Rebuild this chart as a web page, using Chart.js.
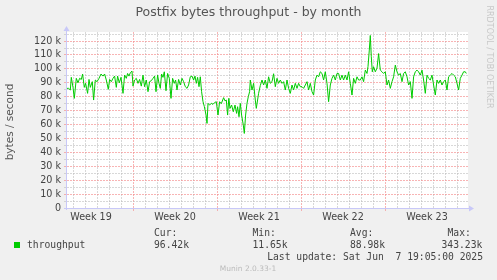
<!DOCTYPE html>
<html>
<head>
<meta charset="utf-8">
<script src="https://cdn.jsdelivr.net/npm/chart.js@4/dist/chart.umd.min.js"></script>
<style>
  html, body { margin: 0; padding: 0; background: #F0F0F0; }
  canvas { display: block; }
</style>
</head>
<body>
<canvas id="c" width="497" height="280"></canvas>
<script>
// ---- DATA ----
// time offset of each sample, in hours since the left edge of the graph
const hours = [
  0, 3.2, 6.6, 8.6, 12, 14.6, 18.6, 22, 25.2, 28.6, 31.2, 34.6, 37.2, 41.2, 44, 46.6, 50.6, 53.2, 56.6, 60,
  64, 68, 72, 75.2, 78.6, 82.6, 85.2, 88.6, 92, 95.2, 98.6, 101.2, 104.6, 108, 112, 115.2, 118.6, 121.2, 124, 126.6,
  130, 132, 135.2, 138.6, 142, 145.2, 148.6, 152, 155.2, 158.6, 162, 165.2, 168.6, 172, 175.2, 178, 181.2, 184, 186.6, 189.2,
  192, 194.6, 198, 201.2, 204.6, 208, 211.2, 214.6, 217.2, 220, 223.2, 226.6, 230, 233.2, 236.6, 240, 243.2, 246.6, 250, 253.2,
  256, 258.6, 261.2, 264, 266.6, 269.2, 272, 274.6, 278, 280, 282, 285.2, 288.6, 292, 295.2, 298.6, 302, 305.2, 308.6, 313.2,
  316, 318.6, 321.2, 323.6, 326, 329.2, 332.6, 336, 339.2, 341.2, 344, 346.6, 349.2, 352.6, 354.6, 357.2, 360, 362.6, 365.2, 366.6,
  370, 373.2, 376.6, 378.6, 383.2, 386.6, 390, 393.2, 396.6, 400, 403.2, 406.6, 410, 413.2, 416.6, 420, 423.2, 426.6, 430, 433.2,
  436.6, 440, 443.2, 446.6, 450, 453.2, 456.6, 460, 463.2, 466.6, 470, 473.2, 476.6, 480, 483.2, 486.6, 490, 493.2, 496.6, 500,
  503.2, 506.6, 510, 513.2, 516.6, 520, 523.2, 526.6, 530, 533.2, 536.6, 540, 543.2, 546.6, 550, 553.2, 556.6, 560, 563.2, 566.6,
  570, 573.2, 576.6, 580, 583.2, 586.6, 590, 593.2, 596.6, 600, 602, 604.6, 606.6, 608.6, 610.6, 613.2, 616.6, 620, 623.2, 626.6,
  630, 633.2, 636.6, 640, 643.2, 646.6, 650, 653.2, 656.6, 660, 663.2, 666.6, 670, 673.2, 676.6, 680, 683.2, 686.6, 690, 693.2,
  696.6, 700, 703.2, 706.6, 710, 713.2, 716.6, 720, 723.2, 726.6, 730, 733.2, 736.6, 740, 743.2, 746.6, 750, 753.2, 756.6, 760,
  763.2, 766.6, 770, 773.2, 776.6, 780, 783.2, 786.6, 790, 793.2, 796.6, 798.6
];
// throughput in k bytes / second
const throughput = [
  86.0, 86.0, 84.8, 93.9, 86.7, 78.8, 93.2, 90.0, 93.2, 92.4, 96.3, 86.7, 89.6, 82.4, 92.4, 86.7, 90.8, 77.6, 92.0, 90.8,
  93.2, 96.3, 94.8, 96.3, 92.0, 85.3, 92.4, 90.8, 93.2, 94.8, 86.7, 94.8, 90.0, 93.9, 82.4, 95.5, 93.2, 96.7, 94.8, 97.2,
  98.4, 87.6, 92.0, 93.2, 89.6, 92.4, 87.6, 95.5, 87.2, 92.0, 83.6, 90.8, 91.5, 93.2, 94.8, 83.6, 95.5, 89.6, 86.0, 96.3,
  93.9, 97.9, 84.3, 96.7, 93.2, 78.8, 93.2, 89.6, 92.0, 84.8, 92.4, 88.4, 93.2, 90.8, 87.2, 86.0, 88.4, 94.3, 94.8, 92.0,
  94.8, 89.6, 93.9, 87.2, 94.3, 83.6, 76.4, 73.0, 67.0, 60.8, 75.2, 74.0, 75.2, 74.5, 75.8, 76.4, 66.8, 76.4, 75.0, 79.3,
  77.0, 77.6, 66.8, 78.8, 71.6, 74.0, 69.2, 74.0, 68.0, 72.8, 65.6, 75.2, 66.8, 59.6, 53.6, 66.8, 75.2, 80.0, 83.6, 92.0,
  84.8, 89.6, 77.6, 71.6, 82.4, 88.0, 92.0, 88.4, 92.0, 86.0, 94.3, 89.6, 90.8, 96.5, 87.2, 93.2, 89.6, 92.0, 89.6, 90.8,
  84.8, 92.0, 86.0, 82.4, 88.4, 84.8, 89.6, 86.0, 89.6, 87.2, 87.2, 86.0, 88.4, 90.8, 84.8, 89.6, 83.6, 81.2, 92.0, 95.5,
  94.3, 97.9, 96.7, 92.0, 97.9, 89.6, 76.4, 88.4, 93.2, 95.5, 92.0, 96.7, 96.7, 92.0, 95.5, 92.0, 95.5, 92.0, 97.9, 89.6,
  81.2, 93.2, 89.6, 94.3, 92.0, 92.0, 94.3, 90.8, 99.1, 96.7, 101.7, 113.5, 124.0, 108.7, 97.9, 101.5, 97.9, 100.5, 111.0, 99.1,
  97.9, 96.7, 97.9, 88.4, 92.0, 86.0, 90.8, 94.3, 102.7, 97.9, 95.5, 96.7, 90.8, 96.7, 97.9, 94.3, 88.4, 90.8, 78.8, 94.3,
  97.9, 99.1, 97.9, 95.5, 99.1, 92.0, 82.4, 95.5, 93.2, 92.0, 95.5, 88.4, 81.2, 92.0, 89.6, 92.0, 88.4, 90.8, 92.0, 84.8,
  94.3, 95.5, 96.7, 95.5, 94.3, 89.6, 84.8, 93.2, 95.5, 97.9, 97.9, 96.7
];
// week labels and the hour (week centre) at which each is written
const weekLabels = ['Week 19', 'Week 20', 'Week 21', 'Week 22', 'Week 23'];
const weekCentres = [48, 216, 384, 552, 720];
const weekStarts = [132, 300, 468, 636];
const spanHours = 802;
const yMax = 126.5;
const yTickLabels = [0, 10, 20, 30, 40, 50, 60, 70, 80, 90, 100, 110, 120];

const chartTitle = 'Postfix bytes throughput - by month';
const yTitle = 'bytes / second';
const seriesName = 'throughput';
const statNames = ['Cur:', 'Min:', 'Avg:', 'Max:'];
const statValues = ['96.42k', '11.65k', '88.98k', '343.23k'];
const lastUpdate = 'Last update: Sat Jun  7 19:05:00 2025';
const watermark = 'RRDTOOL / TOBI OETIKER';
const footer = 'Munin 2.0.33-1';

// ---- STYLE ----
const GREEN = '#00CC00';
const MAJOR = 'rgba(245,140,140,0.65)';
const MINOR = 'rgba(190,190,190,0.6)';
const AXIS = '#C8C8F8';
const SANS = '"DejaVu Sans", sans-serif';
const MONO = '"DejaVu Sans Mono", monospace';

const pts = hours.map((h, i) => ({ x: h, y: throughput[i] }));

const decor = {
  id: 'decor',
  beforeDraw(chart) {
    const { ctx, chartArea: a } = chart;
    ctx.save();
    ctx.fillStyle = '#F0F0F0';
    ctx.fillRect(0, 0, chart.width, chart.height);
    ctx.fillStyle = '#FFFFFF';
    ctx.fillRect(a.left, a.top, a.right - a.left, a.bottom - a.top);
    ctx.restore();
  },
  afterDatasetsDraw(chart) {
    const { ctx, chartArea: a } = chart;
    ctx.save();
    ctx.strokeStyle = AXIS;
    ctx.fillStyle = AXIS;
    ctx.lineWidth = 1;
    ctx.beginPath();
    ctx.moveTo(a.left - 0.5, a.bottom + 2);
    ctx.lineTo(a.left - 0.5, a.top - 2);
    ctx.moveTo(a.left - 3, a.bottom + 0.5);
    ctx.lineTo(a.right + 2, a.bottom + 0.5);
    ctx.stroke();
    ctx.beginPath();
    ctx.moveTo(a.left - 3.5, a.top - 1);
    ctx.lineTo(a.left + 2.5, a.top - 1);
    ctx.lineTo(a.left - 0.5, a.top - 6);
    ctx.closePath();
    ctx.fill();
    ctx.beginPath();
    ctx.moveTo(a.right + 1, a.bottom - 2.5);
    ctx.lineTo(a.right + 1, a.bottom + 3.5);
    ctx.lineTo(a.right + 6, a.bottom + 0.5);
    ctx.closePath();
    ctx.fill();
    ctx.restore();
  },
  afterDraw(chart) {
    const { ctx, chartArea: a } = chart;
    ctx.save();
    ctx.fillStyle = '#555555';
    ctx.font = '12.5px ' + SANS;
    ctx.textAlign = 'center';
    ctx.textBaseline = 'middle';
    ctx.fillText(chartTitle, chart.width / 2, 13);
    ctx.save();
    ctx.translate(10.5, (a.top + a.bottom) / 2 + 2);
    ctx.rotate(-Math.PI / 2);
    ctx.font = '10.5px ' + SANS;
    ctx.fillStyle = '#555555';
    ctx.fillText(yTitle, 0, 0);
    ctx.restore();
    ctx.save();
    ctx.translate(chart.width - 7.5, 57);
    ctx.rotate(Math.PI / 2);
    ctx.font = '8px ' + SANS;
    ctx.fillStyle = '#C8C8C8';
    ctx.fillText(watermark, 0, 0);
    ctx.restore();
    ctx.fillStyle = GREEN;
    ctx.fillRect(14, 242, 6, 6);
    ctx.font = '9.7px ' + MONO;
    ctx.fillStyle = '#444444';
    ctx.textAlign = 'left';
    ctx.textBaseline = 'middle';
    ctx.fillText(seriesName, 27, 245.5);
    const nameX = [154, 252.5, 350, 447.5];
    const valX = [154, 252.5, 350, 441.5];
    statNames.forEach((s, i) => ctx.fillText(s, nameX[i], 233.5));
    statValues.forEach((s, i) => ctx.fillText(s, valX[i], 245.5));
    ctx.textAlign = 'right';
    ctx.fillText(lastUpdate, 483, 257.5);
    ctx.textAlign = 'center';
    ctx.font = '7.5px ' + SANS;
    ctx.fillStyle = '#BBBBBB';
    ctx.fillText(footer, 248, 269);
    ctx.restore();
  }
};

const isWeekStart = v => weekStarts.includes(v);
const isLabelTick = v => weekCentres.includes(v);

new Chart(document.getElementById('c'), {
  type: 'line',
  data: {
    datasets: [{
      label: seriesName,
      data: pts,
      borderColor: GREEN,
      borderWidth: 1,
      pointRadius: 0,
      tension: 0,
      fill: false
    }]
  },
  options: {
    responsive: false,
    animation: false,
    devicePixelRatio: 1,
    layout: { padding: { top: 32, right: 29, bottom: 52, left: 0 } },
    plugins: { legend: { display: false }, title: { display: false }, tooltip: { enabled: false } },
    scales: {
      x: {
        type: 'linear',
        min: 0,
        max: spanHours,
        afterFit(s) { s.height = 20; },
        afterBuildTicks(s) {
          const t = [];
          for (let h = 12; h < spanHours; h += 24) t.push({ value: h });
          weekCentres.forEach(v => t.push({ value: v }));
          t.sort((p, q) => p.value - q.value);
          s.ticks = t;
        },
        ticks: {
          autoSkip: false,
          maxRotation: 0,
          padding: 1,
          color: '#444444',
          font: { family: SANS, size: 9.6 },
          callback(v) {
            const i = weekCentres.indexOf(v);
            return i >= 0 ? weekLabels[i] : '';
          }
        },
        grid: {
          color: c => isLabelTick(c.tick.value) ? 'rgba(0,0,0,0)' : (isWeekStart(c.tick.value) ? MAJOR : MINOR),
          tickColor: c => isWeekStart(c.tick.value) ? MAJOR : 'rgba(0,0,0,0)',
          tickLength: 3,
          lineWidth: 1
        },
        border: { display: false, dash: [2, 1] }
      },
      y: {
        type: 'linear',
        min: 0,
        max: yMax,
        afterFit(s) { s.width = 67; },
        afterBuildTicks(s) {
          const t = [];
          for (let v = 0; v <= 125; v += 5) t.push({ value: v });
          s.ticks = t;
        },
        ticks: {
          autoSkip: false,
          padding: 3,
          color: '#444444',
          font: { family: SANS, size: 9.6 },
          callback(v) {
            if (!yTickLabels.includes(v)) return '';
            return v === 0 ? '0' : v + ' k';
          }
        },
        grid: {
          color: c => (c.tick.value % 10 === 0 ? MAJOR : MINOR),
          tickColor: c => (c.tick.value % 10 === 0 ? MAJOR : MINOR),
          tickLength: 3,
          lineWidth: 1
        },
        border: { display: false, dash: [2, 1] }
      }
    }
  },
  plugins: [decor]
});
</script>
</body>
</html>
